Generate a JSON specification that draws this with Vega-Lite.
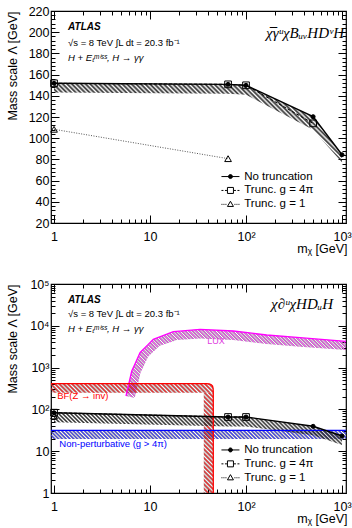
{
"$schema": "https://vega.github.io/schema/vega-lite/v6.json",
"padding": {"left": 5, "top": 4, "right": 4, "bottom": 2},
"bounds": "flush",
"spacing": 61,
"config": {
  "view": {"stroke": "black", "strokeWidth": 1.2},
  "axis": {"grid": false, "domain": false, "tickColor": "black", "tickWidth": 1, "labelFont": "Liberation Sans", "labelFontSize": 12.5, "labelColor": "black", "titleFont": "Liberation Sans", "titleFontSize": 12.5, "titleFontWeight": "normal", "titleColor": "black", "labelFlush": false, "labelOverlap": false},
  "font": "Liberation Sans"
},
"resolve": {"scale": {"shape": "independent", "fill": "independent"}, "legend": {"shape": "independent", "fill": "independent"}},
"datasets": {
  "top": [
    {"s": "No truncation", "m": 1, "v": 151.8, "lo": 143},
    {"s": "No truncation", "m": 65, "v": 150.8, "lo": 142},
    {"s": "No truncation", "m": 100, "v": 149.9, "lo": 141},
    {"s": "No truncation", "m": 500, "v": 120.3, "lo": 108},
    {"s": "No truncation", "m": 1000, "v": 84.4, "lo": 77},
    {"s": "Trunc. g = 4π", "m": 1, "v": 151.8},
    {"s": "Trunc. g = 4π", "m": 65, "v": 150.8},
    {"s": "Trunc. g = 4π", "m": 100, "v": 149.9},
    {"s": "Trunc. g = 4π", "m": 500, "v": 114},
    {"s": "Trunc. g = 1", "m": 1, "v": 108.4},
    {"s": "Trunc. g = 1", "m": 65, "v": 80.7}
  ],
  "bot": [
    {"s": "No truncation", "m": 1, "v": 83.4, "lo": 49},
    {"s": "No truncation", "m": 65, "v": 65.8, "lo": 39},
    {"s": "No truncation", "m": 100, "v": 65.8, "lo": 39},
    {"s": "No truncation", "m": 500, "v": 39.4, "lo": 24},
    {"s": "No truncation", "m": 1000, "v": 23.1, "lo": 14},
    {"s": "Trunc. g = 4π", "m": 1, "v": 83.4},
    {"s": "Trunc. g = 4π", "m": 65, "v": 65.8},
    {"s": "Trunc. g = 4π", "m": 100, "v": 65.8},
    {"s": "Trunc. g = 1", "m": 1, "v": 69.5}
  ],
  "legendRows": [{"lbl": "No truncation"}, {"lbl": "Trunc. g = 4π"}, {"lbl": "Trunc. g = 1"}],
  "lux": [
    {"m": 5.62, "hi": 209, "lo": 209},
    {"m": 6.45, "hi": 829, "lo": 195},
    {"m": 6.93, "hi": 1193, "lo": 187},
    {"m": 7.87, "hi": 2272, "lo": 676},
    {"m": 7.94, "hi": 2323, "lo": 743},
    {"m": 9.58, "hi": 3589, "lo": 1854},
    {"m": 10.82, "hi": 4753, "lo": 2400},
    {"m": 12.62, "hi": 5424, "lo": 3342},
    {"m": 17.49, "hi": 7225, "lo": 4285},
    {"m": 18.88, "hi": 7345, "lo": 4548},
    {"m": 33.2, "hi": 8245, "lo": 4997},
    {"m": 73.8, "hi": 7510, "lo": 4571},
    {"m": 164.3, "hi": 6025, "lo": 3671},
    {"m": 365.1, "hi": 5192, "lo": 3162},
    {"m": 1100, "hi": 4258, "lo": 2637}
  ],
  "redline": [
    {"m": 0.93, "v": 412, "k": 0},
    {"m": 38.5, "v": 412, "k": 1},
    {"m": 41.5, "v": 405, "k": 2},
    {"m": 43.5, "v": 390, "k": 3},
    {"m": 44.8, "v": 360, "k": 4},
    {"m": 45.4, "v": 320, "k": 5},
    {"m": 45.6, "v": 260, "k": 6},
    {"m": 45.6, "v": 1, "k": 7}
  ],
  "bfbox": [{"m1": 36.3, "m2": 45.6, "lo": 1, "hi": 250}],
  "blue": [
    {"m": 0.93, "v": 31.6, "lo": 19.6},
    {"m": 1100, "v": 31.6, "lo": 19.6}
  ]
},
"vconcat": [
{
  "width": 295, "height": 212,
  "resolve": {"axis": {"x": "independent", "y": "independent"}},
  "layer": [
    {"data": {"name": "top"}, "transform": [{"filter": "datum.s == 'No truncation'"}],
     "mark": {"type": "area", "fill": {"gradient": "linear", "x1": 0, "y1": 1, "x2": 1.1855, "y2": 0.6736, "stops": [
{"offset":0,"color":"#333"},{"offset":0.00625,"color":"transparent"},{"offset":0.0125,"color":"#333"},{"offset":0.01875,"color":"transparent"},{"offset":0.025,"color":"#333"},{"offset":0.03125,"color":"transparent"},{"offset":0.0375,"color":"#333"},{"offset":0.04375,"color":"transparent"},{"offset":0.05,"color":"#333"},{"offset":0.05625,"color":"transparent"},{"offset":0.0625,"color":"#333"},{"offset":0.06875,"color":"transparent"},{"offset":0.075,"color":"#333"},{"offset":0.08125,"color":"transparent"},{"offset":0.0875,"color":"#333"},{"offset":0.09375,"color":"transparent"},
{"offset":0.1,"color":"#333"},{"offset":0.10625,"color":"transparent"},{"offset":0.1125,"color":"#333"},{"offset":0.11875,"color":"transparent"},{"offset":0.125,"color":"#333"},{"offset":0.13125,"color":"transparent"},{"offset":0.1375,"color":"#333"},{"offset":0.14375,"color":"transparent"},{"offset":0.15,"color":"#333"},{"offset":0.15625,"color":"transparent"},{"offset":0.1625,"color":"#333"},{"offset":0.16875,"color":"transparent"},{"offset":0.175,"color":"#333"},{"offset":0.18125,"color":"transparent"},{"offset":0.1875,"color":"#333"},{"offset":0.19375,"color":"transparent"},
{"offset":0.2,"color":"#333"},{"offset":0.20625,"color":"transparent"},{"offset":0.2125,"color":"#333"},{"offset":0.21875,"color":"transparent"},{"offset":0.225,"color":"#333"},{"offset":0.23125,"color":"transparent"},{"offset":0.2375,"color":"#333"},{"offset":0.24375,"color":"transparent"},{"offset":0.25,"color":"#333"},{"offset":0.25625,"color":"transparent"},{"offset":0.2625,"color":"#333"},{"offset":0.26875,"color":"transparent"},{"offset":0.275,"color":"#333"},{"offset":0.28125,"color":"transparent"},{"offset":0.2875,"color":"#333"},{"offset":0.29375,"color":"transparent"},
{"offset":0.3,"color":"#333"},{"offset":0.30625,"color":"transparent"},{"offset":0.3125,"color":"#333"},{"offset":0.31875,"color":"transparent"},{"offset":0.325,"color":"#333"},{"offset":0.33125,"color":"transparent"},{"offset":0.3375,"color":"#333"},{"offset":0.34375,"color":"transparent"},{"offset":0.35,"color":"#333"},{"offset":0.35625,"color":"transparent"},{"offset":0.3625,"color":"#333"},{"offset":0.36875,"color":"transparent"},{"offset":0.375,"color":"#333"},{"offset":0.38125,"color":"transparent"},{"offset":0.3875,"color":"#333"},{"offset":0.39375,"color":"transparent"},
{"offset":0.4,"color":"#333"},{"offset":0.40625,"color":"transparent"},{"offset":0.4125,"color":"#333"},{"offset":0.41875,"color":"transparent"},{"offset":0.425,"color":"#333"},{"offset":0.43125,"color":"transparent"},{"offset":0.4375,"color":"#333"},{"offset":0.44375,"color":"transparent"},{"offset":0.45,"color":"#333"},{"offset":0.45625,"color":"transparent"},{"offset":0.4625,"color":"#333"},{"offset":0.46875,"color":"transparent"},{"offset":0.475,"color":"#333"},{"offset":0.48125,"color":"transparent"},{"offset":0.4875,"color":"#333"},{"offset":0.49375,"color":"transparent"},
{"offset":0.5,"color":"#333"},{"offset":0.50625,"color":"transparent"},{"offset":0.5125,"color":"#333"},{"offset":0.51875,"color":"transparent"},{"offset":0.525,"color":"#333"},{"offset":0.53125,"color":"transparent"},{"offset":0.5375,"color":"#333"},{"offset":0.54375,"color":"transparent"},{"offset":0.55,"color":"#333"},{"offset":0.55625,"color":"transparent"},{"offset":0.5625,"color":"#333"},{"offset":0.56875,"color":"transparent"},{"offset":0.575,"color":"#333"},{"offset":0.58125,"color":"transparent"},{"offset":0.5875,"color":"#333"},{"offset":0.59375,"color":"transparent"},
{"offset":0.6,"color":"#333"},{"offset":0.60625,"color":"transparent"},{"offset":0.6125,"color":"#333"},{"offset":0.61875,"color":"transparent"},{"offset":0.625,"color":"#333"},{"offset":0.63125,"color":"transparent"},{"offset":0.6375,"color":"#333"},{"offset":0.64375,"color":"transparent"},{"offset":0.65,"color":"#333"},{"offset":0.65625,"color":"transparent"},{"offset":0.6625,"color":"#333"},{"offset":0.66875,"color":"transparent"},{"offset":0.675,"color":"#333"},{"offset":0.68125,"color":"transparent"},{"offset":0.6875,"color":"#333"},{"offset":0.69375,"color":"transparent"},
{"offset":0.7,"color":"#333"},{"offset":0.70625,"color":"transparent"},{"offset":0.7125,"color":"#333"},{"offset":0.71875,"color":"transparent"},{"offset":0.725,"color":"#333"},{"offset":0.73125,"color":"transparent"},{"offset":0.7375,"color":"#333"},{"offset":0.74375,"color":"transparent"},{"offset":0.75,"color":"#333"},{"offset":0.75625,"color":"transparent"},{"offset":0.7625,"color":"#333"},{"offset":0.76875,"color":"transparent"},{"offset":0.775,"color":"#333"},{"offset":0.78125,"color":"transparent"},{"offset":0.7875,"color":"#333"},{"offset":0.79375,"color":"transparent"},
{"offset":0.8,"color":"#333"},{"offset":0.80625,"color":"transparent"},{"offset":0.8125,"color":"#333"},{"offset":0.81875,"color":"transparent"},{"offset":0.825,"color":"#333"},{"offset":0.83125,"color":"transparent"},{"offset":0.8375,"color":"#333"},{"offset":0.84375,"color":"transparent"},{"offset":0.85,"color":"#333"},{"offset":0.85625,"color":"transparent"},{"offset":0.8625,"color":"#333"},{"offset":0.86875,"color":"transparent"},{"offset":0.875,"color":"#333"},{"offset":0.88125,"color":"transparent"},{"offset":0.8875,"color":"#333"},{"offset":0.89375,"color":"transparent"},
{"offset":0.9,"color":"#333"},{"offset":0.90625,"color":"transparent"},{"offset":0.9125,"color":"#333"},{"offset":0.91875,"color":"transparent"},{"offset":0.925,"color":"#333"},{"offset":0.93125,"color":"transparent"},{"offset":0.9375,"color":"#333"},{"offset":0.94375,"color":"transparent"},{"offset":0.95,"color":"#333"},{"offset":0.95625,"color":"transparent"},{"offset":0.9625,"color":"#333"},{"offset":0.96875,"color":"transparent"},{"offset":0.975,"color":"#333"},{"offset":0.98125,"color":"transparent"},{"offset":0.9875,"color":"#333"},{"offset":0.99375,"color":"transparent"},
{"offset":1,"color":"#333"}]}},
     "encoding": {
       "x": {"field": "m", "type": "quantitative", "scale": {"type": "log", "domain": [0.93, 1100], "nice": false},
             "axis": {"orient": "bottom", "values": [1, 10, 100, 1000], "tickSize": -8, "labelPadding": 15, "labelExpr": "datum.value == 1 ? '1' : datum.value == 10 ? '10' : datum.value == 100 ? '10²' : '10³'", "title": "mᵪ [GeV]", "titleAnchor": "end", "titleAlign": "right", "titleX": 296, "titleY": 29.5, "titleBaseline": "alphabetic"}},
       "y": {"field": "v", "type": "quantitative", "scale": {"domain": [20, 220], "nice": false, "zero": false},
             "axis": {"orient": "left", "values": [20, 40, 60, 80, 100, 120, 140, 160, 180, 200, 220], "tickSize": -8, "labelPadding": 10, "title": "Mass scale Λ [GeV]", "titleAnchor": "end", "titleAlign": "right", "titleAngle": -90, "titleX": -34.5, "titleY": 0, "titleBaseline": "alphabetic"}},
       "y2": {"field": "lo"}
     }},
    {"data": {"name": "top"}, "transform": [{"filter": "datum.s == 'No truncation'"}],
     "mark": {"type": "line", "stroke": "black", "strokeWidth": 1.4},
     "encoding": {
       "x": {"field": "m", "type": "quantitative", "axis": {"orient": "bottom", "values": [2,3,4,5,6,7,8,9,20,30,40,50,60,70,80,90,200,300,400,500,600,700,800,900], "tickSize": -4, "labels": false, "title": null}},
       "y": {"field": "v", "type": "quantitative", "axis": {"orient": "left", "values": [24,28,32,36,44,48,52,56,64,68,72,76,84,88,92,96,104,108,112,116,124,128,132,136,144,148,152,156,164,168,172,176,184,188,192,196,204,208,212,216], "tickSize": -4, "labels": false, "title": null}}
     }},
    {"data": {"name": "top"}, "transform": [{"filter": "datum.s == 'Trunc. g = 4π'"}],
     "mark": {"type": "line", "stroke": "black", "strokeWidth": 1, "strokeDash": [3, 2]},
     "encoding": {"x": {"field": "m", "type": "quantitative", "axis": null}, "y": {"field": "v", "type": "quantitative", "axis": null}}},
    {"data": {"name": "top"}, "transform": [{"filter": "datum.s == 'Trunc. g = 1'"}],
     "mark": {"type": "line", "stroke": "#555", "strokeWidth": 1, "strokeDash": [1, 1.5]},
     "encoding": {"x": {"field": "m", "type": "quantitative", "axis": null}, "y": {"field": "v", "type": "quantitative", "axis": null}}},
    {"data": {"name": "top"}, "transform": [{"filter": "datum.s == 'No truncation'"}],
     "mark": {"type": "point", "shape": "circle", "filled": true, "fill": "black", "stroke": "black", "strokeWidth": 1, "size": 16, "opacity": 1},
     "encoding": {
       "x": {"field": "m", "type": "quantitative", "axis": {"orient": "top", "values": [1, 10, 100, 1000], "tickSize": -8, "labels": false, "title": null}},
       "y": {"field": "v", "type": "quantitative", "axis": {"orient": "right", "values": [20, 40, 60, 80, 100, 120, 140, 160, 180, 200, 220], "tickSize": -8, "labels": false, "title": null}}
     }},
    {"data": {"name": "top"}, "transform": [{"filter": "datum.s == 'Trunc. g = 4π'"}],
     "mark": {"type": "point", "shape": "square", "filled": false, "stroke": "black", "strokeWidth": 1, "size": 45, "opacity": 1},
     "encoding": {"x": {"field": "m", "type": "quantitative", "axis": null}, "y": {"field": "v", "type": "quantitative", "axis": null}}},
    {"data": {"name": "top"}, "transform": [{"filter": "datum.s == 'Trunc. g = 1'"}],
     "mark": {"type": "point", "shape": "triangle-up", "filled": false, "stroke": "black", "strokeWidth": 1, "size": 45, "opacity": 1},
     "encoding": {"x": {"field": "m", "type": "quantitative", "axis": null}, "y": {"field": "v", "type": "quantitative", "axis": null}}},
    {"data": {"name": "legendRows"},
     "mark": {"type": "point", "filled": false, "stroke": "black", "strokeWidth": 1, "opacity": 0},
     "encoding": {
       "shape": {"field": "lbl", "type": "nominal", "scale": {"domain": ["No truncation", "Trunc. g = 4π", "Trunc. g = 1"], "range": ["M-1.8,0H1.8M0.4,0A0.4,0.4,0,1,1,-0.4,0A0.4,0.4,0,1,1,0.4,0Z", "M-1.8,0H-1.4M-1.1,0H-0.7M0.7,0H1.1M1.4,0H1.8M-0.6,-0.6H0.6V0.6H-0.6Z", "M-1.8,0H-1.6M-1.4,0H-1.2M-1,0H-0.8M0.8,0H1M1.2,0H1.4M1.6,0H1.8M0,-0.62L0.6,0.42H-0.6Z"]},
         "legend": {"orient": "none", "legendX": 173.7, "legendY": 159.8, "title": null, "symbolSize": 100, "symbolStrokeWidth": 1, "symbolStrokeColor": "black", "symbolOpacity": 1, "labelFontSize": 11.5, "labelFont": "Liberation Sans", "labelColor": "black", "labelOffset": 8, "rowPadding": 0.9, "padding": 0,
           "encode": {"symbols": {"update": {"stroke": {"value": "black"}, "strokeWidth": {"value": 1}, "strokeOpacity": {"value": 1}}}}}},
       "fill": {"field": "lbl", "type": "nominal", "scale": {"domain": ["No truncation", "Trunc. g = 4π", "Trunc. g = 1"], "range": ["black", "white", "white"]},
         "legend": {"orient": "none", "legendX": 173.7, "legendY": 159.8, "title": null, "symbolSize": 100, "symbolStrokeWidth": 1, "symbolStrokeColor": "black", "symbolOpacity": 1, "labelFontSize": 11.5, "labelFont": "Liberation Sans", "labelColor": "black", "labelOffset": 8, "rowPadding": 0.9, "padding": 0,
           "encode": {"symbols": {"update": {"stroke": {"value": "black"}, "strokeWidth": {"value": 1}, "strokeOpacity": {"value": 1}}}}}}
     }},
    {"data": {"values": [{"m": 1.4, "v": 205.2, "t": "ATLAS"}]},
     "mark": {"type": "text", "font": "Liberation Sans", "fontStyle": "italic", "fontWeight": "bold", "fontSize": 10, "align": "left", "baseline": "middle", "color": "black"},
     "encoding": {
       "x": {"field": "m", "type": "quantitative", "axis": {"orient": "top", "values": [2,3,4,5,6,7,8,9,20,30,40,50,60,70,80,90,200,300,400,500,600,700,800,900], "tickSize": -4, "labels": false, "title": null}},
       "y": {"field": "v", "type": "quantitative", "axis": {"orient": "right", "values": [24,28,32,36,44,48,52,56,64,68,72,76,84,88,92,96,104,108,112,116,124,128,132,136,144,148,152,156,164,168,172,176,184,188,192,196,204,208,212,216], "tickSize": -4, "labels": false, "title": null}},
       "text": {"field": "t"}
     }},
    {"data": {"values": [{"m": 1.4, "v": 190.1, "t": "√s = 8 TeV   ∫L dt = 20.3 fb⁻¹"}]},
     "mark": {"type": "text", "font": "Liberation Sans", "fontSize": 9.5, "align": "left", "baseline": "middle", "color": "black"},
     "encoding": {"x": {"field": "m", "type": "quantitative", "axis": null}, "y": {"field": "v", "type": "quantitative", "axis": null}, "text": {"field": "t"}}},
    {"data": {"values": [{"m": 1.4, "v": 175.9, "t": "H + Eₜᵐⁱˢˢ, H → γγ"}]},
     "mark": {"type": "text", "font": "Liberation Sans", "fontStyle": "italic", "fontSize": 9.5, "align": "left", "baseline": "middle", "color": "black"},
     "encoding": {"x": {"field": "m", "type": "quantitative", "axis": null}, "y": {"field": "v", "type": "quantitative", "axis": null}, "text": {"field": "t"}}},
    {"data": {"values": [{"m": 1050, "v": 199.5, "t": "χ̅γᵘχBᵤᵥHDᵛH"}]},
     "mark": {"type": "text", "font": "Liberation Serif", "fontStyle": "italic", "fontSize": 15, "align": "right", "baseline": "middle", "color": "black"},
     "encoding": {"x": {"field": "m", "type": "quantitative", "axis": null}, "y": {"field": "v", "type": "quantitative", "axis": null}, "text": {"field": "t"}}}
  ]
},
{
  "width": 295, "height": 209,
  "resolve": {"axis": {"x": "independent", "y": "independent"}},
  "layer": [
    {"data": {"name": "blue"},
     "mark": {"type": "area", "fill": {"gradient": "linear", "x1": 0, "y1": 1, "x2": 1.0286, "y2": 0.9697, "stops": [
{"offset":0,"color":"#33f"},{"offset":0.00625,"color":"transparent"},{"offset":0.0125,"color":"#33f"},{"offset":0.01875,"color":"transparent"},{"offset":0.025,"color":"#33f"},{"offset":0.03125,"color":"transparent"},{"offset":0.0375,"color":"#33f"},{"offset":0.04375,"color":"transparent"},{"offset":0.05,"color":"#33f"},{"offset":0.05625,"color":"transparent"},{"offset":0.0625,"color":"#33f"},{"offset":0.06875,"color":"transparent"},{"offset":0.075,"color":"#33f"},{"offset":0.08125,"color":"transparent"},{"offset":0.0875,"color":"#33f"},{"offset":0.09375,"color":"transparent"},
{"offset":0.1,"color":"#33f"},{"offset":0.10625,"color":"transparent"},{"offset":0.1125,"color":"#33f"},{"offset":0.11875,"color":"transparent"},{"offset":0.125,"color":"#33f"},{"offset":0.13125,"color":"transparent"},{"offset":0.1375,"color":"#33f"},{"offset":0.14375,"color":"transparent"},{"offset":0.15,"color":"#33f"},{"offset":0.15625,"color":"transparent"},{"offset":0.1625,"color":"#33f"},{"offset":0.16875,"color":"transparent"},{"offset":0.175,"color":"#33f"},{"offset":0.18125,"color":"transparent"},{"offset":0.1875,"color":"#33f"},{"offset":0.19375,"color":"transparent"},
{"offset":0.2,"color":"#33f"},{"offset":0.20625,"color":"transparent"},{"offset":0.2125,"color":"#33f"},{"offset":0.21875,"color":"transparent"},{"offset":0.225,"color":"#33f"},{"offset":0.23125,"color":"transparent"},{"offset":0.2375,"color":"#33f"},{"offset":0.24375,"color":"transparent"},{"offset":0.25,"color":"#33f"},{"offset":0.25625,"color":"transparent"},{"offset":0.2625,"color":"#33f"},{"offset":0.26875,"color":"transparent"},{"offset":0.275,"color":"#33f"},{"offset":0.28125,"color":"transparent"},{"offset":0.2875,"color":"#33f"},{"offset":0.29375,"color":"transparent"},
{"offset":0.3,"color":"#33f"},{"offset":0.30625,"color":"transparent"},{"offset":0.3125,"color":"#33f"},{"offset":0.31875,"color":"transparent"},{"offset":0.325,"color":"#33f"},{"offset":0.33125,"color":"transparent"},{"offset":0.3375,"color":"#33f"},{"offset":0.34375,"color":"transparent"},{"offset":0.35,"color":"#33f"},{"offset":0.35625,"color":"transparent"},{"offset":0.3625,"color":"#33f"},{"offset":0.36875,"color":"transparent"},{"offset":0.375,"color":"#33f"},{"offset":0.38125,"color":"transparent"},{"offset":0.3875,"color":"#33f"},{"offset":0.39375,"color":"transparent"},
{"offset":0.4,"color":"#33f"},{"offset":0.40625,"color":"transparent"},{"offset":0.4125,"color":"#33f"},{"offset":0.41875,"color":"transparent"},{"offset":0.425,"color":"#33f"},{"offset":0.43125,"color":"transparent"},{"offset":0.4375,"color":"#33f"},{"offset":0.44375,"color":"transparent"},{"offset":0.45,"color":"#33f"},{"offset":0.45625,"color":"transparent"},{"offset":0.4625,"color":"#33f"},{"offset":0.46875,"color":"transparent"},{"offset":0.475,"color":"#33f"},{"offset":0.48125,"color":"transparent"},{"offset":0.4875,"color":"#33f"},{"offset":0.49375,"color":"transparent"},
{"offset":0.5,"color":"#33f"},{"offset":0.50625,"color":"transparent"},{"offset":0.5125,"color":"#33f"},{"offset":0.51875,"color":"transparent"},{"offset":0.525,"color":"#33f"},{"offset":0.53125,"color":"transparent"},{"offset":0.5375,"color":"#33f"},{"offset":0.54375,"color":"transparent"},{"offset":0.55,"color":"#33f"},{"offset":0.55625,"color":"transparent"},{"offset":0.5625,"color":"#33f"},{"offset":0.56875,"color":"transparent"},{"offset":0.575,"color":"#33f"},{"offset":0.58125,"color":"transparent"},{"offset":0.5875,"color":"#33f"},{"offset":0.59375,"color":"transparent"},
{"offset":0.6,"color":"#33f"},{"offset":0.60625,"color":"transparent"},{"offset":0.6125,"color":"#33f"},{"offset":0.61875,"color":"transparent"},{"offset":0.625,"color":"#33f"},{"offset":0.63125,"color":"transparent"},{"offset":0.6375,"color":"#33f"},{"offset":0.64375,"color":"transparent"},{"offset":0.65,"color":"#33f"},{"offset":0.65625,"color":"transparent"},{"offset":0.6625,"color":"#33f"},{"offset":0.66875,"color":"transparent"},{"offset":0.675,"color":"#33f"},{"offset":0.68125,"color":"transparent"},{"offset":0.6875,"color":"#33f"},{"offset":0.69375,"color":"transparent"},
{"offset":0.7,"color":"#33f"},{"offset":0.70625,"color":"transparent"},{"offset":0.7125,"color":"#33f"},{"offset":0.71875,"color":"transparent"},{"offset":0.725,"color":"#33f"},{"offset":0.73125,"color":"transparent"},{"offset":0.7375,"color":"#33f"},{"offset":0.74375,"color":"transparent"},{"offset":0.75,"color":"#33f"},{"offset":0.75625,"color":"transparent"},{"offset":0.7625,"color":"#33f"},{"offset":0.76875,"color":"transparent"},{"offset":0.775,"color":"#33f"},{"offset":0.78125,"color":"transparent"},{"offset":0.7875,"color":"#33f"},{"offset":0.79375,"color":"transparent"},
{"offset":0.8,"color":"#33f"},{"offset":0.80625,"color":"transparent"},{"offset":0.8125,"color":"#33f"},{"offset":0.81875,"color":"transparent"},{"offset":0.825,"color":"#33f"},{"offset":0.83125,"color":"transparent"},{"offset":0.8375,"color":"#33f"},{"offset":0.84375,"color":"transparent"},{"offset":0.85,"color":"#33f"},{"offset":0.85625,"color":"transparent"},{"offset":0.8625,"color":"#33f"},{"offset":0.86875,"color":"transparent"},{"offset":0.875,"color":"#33f"},{"offset":0.88125,"color":"transparent"},{"offset":0.8875,"color":"#33f"},{"offset":0.89375,"color":"transparent"},
{"offset":0.9,"color":"#33f"},{"offset":0.90625,"color":"transparent"},{"offset":0.9125,"color":"#33f"},{"offset":0.91875,"color":"transparent"},{"offset":0.925,"color":"#33f"},{"offset":0.93125,"color":"transparent"},{"offset":0.9375,"color":"#33f"},{"offset":0.94375,"color":"transparent"},{"offset":0.95,"color":"#33f"},{"offset":0.95625,"color":"transparent"},{"offset":0.9625,"color":"#33f"},{"offset":0.96875,"color":"transparent"},{"offset":0.975,"color":"#33f"},{"offset":0.98125,"color":"transparent"},{"offset":0.9875,"color":"#33f"},{"offset":0.99375,"color":"transparent"},
{"offset":1,"color":"#33f"}]}},
     "encoding": {
       "x": {"field": "m", "type": "quantitative", "scale": {"type": "log", "domain": [0.93, 1100], "nice": false},
             "axis": {"orient": "bottom", "values": [1, 10, 100, 1000], "tickSize": -8, "labelPadding": 15, "labelExpr": "datum.value == 1 ? '1' : datum.value == 10 ? '10' : datum.value == 100 ? '10²' : '10³'", "title": "mᵪ [GeV]", "titleAnchor": "end", "titleAlign": "right", "titleX": 296, "titleY": 29.5, "titleBaseline": "alphabetic"}},
       "y": {"field": "v", "type": "quantitative", "scale": {"type": "log", "domain": [1, 100000], "nice": false},
             "axis": {"orient": "left", "values": [1, 10, 100, 1000, 10000, 100000], "tickSize": -8, "labelPadding": 10, "labelExpr": "datum.value == 1 ? '1' : datum.value == 10 ? '10' : datum.value == 100 ? '10²' : datum.value == 1000 ? '10³' : datum.value == 10000 ? '10⁴' : '10⁵'", "title": "Mass scale Λ [GeV]", "titleAnchor": "end", "titleAlign": "right", "titleAngle": -90, "titleX": -34.5, "titleY": 0, "titleBaseline": "alphabetic"}},
       "y2": {"field": "lo"}
     }},
    {"data": {"name": "lux"},
     "mark": {"type": "area", "fill": {"gradient": "linear", "x1": 0, "y1": 1, "x2": 1.1957, "y2": 0.6266, "stops": [
{"offset":0,"color":"#f4f"},{"offset":0.00625,"color":"transparent"},{"offset":0.0125,"color":"#f4f"},{"offset":0.01875,"color":"transparent"},{"offset":0.025,"color":"#f4f"},{"offset":0.03125,"color":"transparent"},{"offset":0.0375,"color":"#f4f"},{"offset":0.04375,"color":"transparent"},{"offset":0.05,"color":"#f4f"},{"offset":0.05625,"color":"transparent"},{"offset":0.0625,"color":"#f4f"},{"offset":0.06875,"color":"transparent"},{"offset":0.075,"color":"#f4f"},{"offset":0.08125,"color":"transparent"},{"offset":0.0875,"color":"#f4f"},{"offset":0.09375,"color":"transparent"},
{"offset":0.1,"color":"#f4f"},{"offset":0.10625,"color":"transparent"},{"offset":0.1125,"color":"#f4f"},{"offset":0.11875,"color":"transparent"},{"offset":0.125,"color":"#f4f"},{"offset":0.13125,"color":"transparent"},{"offset":0.1375,"color":"#f4f"},{"offset":0.14375,"color":"transparent"},{"offset":0.15,"color":"#f4f"},{"offset":0.15625,"color":"transparent"},{"offset":0.1625,"color":"#f4f"},{"offset":0.16875,"color":"transparent"},{"offset":0.175,"color":"#f4f"},{"offset":0.18125,"color":"transparent"},{"offset":0.1875,"color":"#f4f"},{"offset":0.19375,"color":"transparent"},
{"offset":0.2,"color":"#f4f"},{"offset":0.20625,"color":"transparent"},{"offset":0.2125,"color":"#f4f"},{"offset":0.21875,"color":"transparent"},{"offset":0.225,"color":"#f4f"},{"offset":0.23125,"color":"transparent"},{"offset":0.2375,"color":"#f4f"},{"offset":0.24375,"color":"transparent"},{"offset":0.25,"color":"#f4f"},{"offset":0.25625,"color":"transparent"},{"offset":0.2625,"color":"#f4f"},{"offset":0.26875,"color":"transparent"},{"offset":0.275,"color":"#f4f"},{"offset":0.28125,"color":"transparent"},{"offset":0.2875,"color":"#f4f"},{"offset":0.29375,"color":"transparent"},
{"offset":0.3,"color":"#f4f"},{"offset":0.30625,"color":"transparent"},{"offset":0.3125,"color":"#f4f"},{"offset":0.31875,"color":"transparent"},{"offset":0.325,"color":"#f4f"},{"offset":0.33125,"color":"transparent"},{"offset":0.3375,"color":"#f4f"},{"offset":0.34375,"color":"transparent"},{"offset":0.35,"color":"#f4f"},{"offset":0.35625,"color":"transparent"},{"offset":0.3625,"color":"#f4f"},{"offset":0.36875,"color":"transparent"},{"offset":0.375,"color":"#f4f"},{"offset":0.38125,"color":"transparent"},{"offset":0.3875,"color":"#f4f"},{"offset":0.39375,"color":"transparent"},
{"offset":0.4,"color":"#f4f"},{"offset":0.40625,"color":"transparent"},{"offset":0.4125,"color":"#f4f"},{"offset":0.41875,"color":"transparent"},{"offset":0.425,"color":"#f4f"},{"offset":0.43125,"color":"transparent"},{"offset":0.4375,"color":"#f4f"},{"offset":0.44375,"color":"transparent"},{"offset":0.45,"color":"#f4f"},{"offset":0.45625,"color":"transparent"},{"offset":0.4625,"color":"#f4f"},{"offset":0.46875,"color":"transparent"},{"offset":0.475,"color":"#f4f"},{"offset":0.48125,"color":"transparent"},{"offset":0.4875,"color":"#f4f"},{"offset":0.49375,"color":"transparent"},
{"offset":0.5,"color":"#f4f"},{"offset":0.50625,"color":"transparent"},{"offset":0.5125,"color":"#f4f"},{"offset":0.51875,"color":"transparent"},{"offset":0.525,"color":"#f4f"},{"offset":0.53125,"color":"transparent"},{"offset":0.5375,"color":"#f4f"},{"offset":0.54375,"color":"transparent"},{"offset":0.55,"color":"#f4f"},{"offset":0.55625,"color":"transparent"},{"offset":0.5625,"color":"#f4f"},{"offset":0.56875,"color":"transparent"},{"offset":0.575,"color":"#f4f"},{"offset":0.58125,"color":"transparent"},{"offset":0.5875,"color":"#f4f"},{"offset":0.59375,"color":"transparent"},
{"offset":0.6,"color":"#f4f"},{"offset":0.60625,"color":"transparent"},{"offset":0.6125,"color":"#f4f"},{"offset":0.61875,"color":"transparent"},{"offset":0.625,"color":"#f4f"},{"offset":0.63125,"color":"transparent"},{"offset":0.6375,"color":"#f4f"},{"offset":0.64375,"color":"transparent"},{"offset":0.65,"color":"#f4f"},{"offset":0.65625,"color":"transparent"},{"offset":0.6625,"color":"#f4f"},{"offset":0.66875,"color":"transparent"},{"offset":0.675,"color":"#f4f"},{"offset":0.68125,"color":"transparent"},{"offset":0.6875,"color":"#f4f"},{"offset":0.69375,"color":"transparent"},
{"offset":0.7,"color":"#f4f"},{"offset":0.70625,"color":"transparent"},{"offset":0.7125,"color":"#f4f"},{"offset":0.71875,"color":"transparent"},{"offset":0.725,"color":"#f4f"},{"offset":0.73125,"color":"transparent"},{"offset":0.7375,"color":"#f4f"},{"offset":0.74375,"color":"transparent"},{"offset":0.75,"color":"#f4f"},{"offset":0.75625,"color":"transparent"},{"offset":0.7625,"color":"#f4f"},{"offset":0.76875,"color":"transparent"},{"offset":0.775,"color":"#f4f"},{"offset":0.78125,"color":"transparent"},{"offset":0.7875,"color":"#f4f"},{"offset":0.79375,"color":"transparent"},
{"offset":0.8,"color":"#f4f"},{"offset":0.80625,"color":"transparent"},{"offset":0.8125,"color":"#f4f"},{"offset":0.81875,"color":"transparent"},{"offset":0.825,"color":"#f4f"},{"offset":0.83125,"color":"transparent"},{"offset":0.8375,"color":"#f4f"},{"offset":0.84375,"color":"transparent"},{"offset":0.85,"color":"#f4f"},{"offset":0.85625,"color":"transparent"},{"offset":0.8625,"color":"#f4f"},{"offset":0.86875,"color":"transparent"},{"offset":0.875,"color":"#f4f"},{"offset":0.88125,"color":"transparent"},{"offset":0.8875,"color":"#f4f"},{"offset":0.89375,"color":"transparent"},
{"offset":0.9,"color":"#f4f"},{"offset":0.90625,"color":"transparent"},{"offset":0.9125,"color":"#f4f"},{"offset":0.91875,"color":"transparent"},{"offset":0.925,"color":"#f4f"},{"offset":0.93125,"color":"transparent"},{"offset":0.9375,"color":"#f4f"},{"offset":0.94375,"color":"transparent"},{"offset":0.95,"color":"#f4f"},{"offset":0.95625,"color":"transparent"},{"offset":0.9625,"color":"#f4f"},{"offset":0.96875,"color":"transparent"},{"offset":0.975,"color":"#f4f"},{"offset":0.98125,"color":"transparent"},{"offset":0.9875,"color":"#f4f"},{"offset":0.99375,"color":"transparent"},
{"offset":1,"color":"#f4f"}]}},
     "encoding": {"x": {"field": "m", "type": "quantitative", "axis": null}, "y": {"field": "hi", "type": "quantitative", "axis": null}, "y2": {"field": "lo"}}},
    {"data": {"name": "redline"}, "transform": [{"filter": "datum.k < 7"}],
     "mark": {"type": "area", "fill": {"gradient": "linear", "x1": 0, "y1": 1, "x2": 1.0528, "y2": 0.941, "stops": [
{"offset":0,"color":"#f22"},{"offset":0.0125,"color":"transparent"},{"offset":0.025,"color":"#f22"},{"offset":0.0375,"color":"transparent"},{"offset":0.05,"color":"#f22"},{"offset":0.0625,"color":"transparent"},{"offset":0.075,"color":"#f22"},{"offset":0.0875,"color":"transparent"},
{"offset":0.1,"color":"#f22"},{"offset":0.1125,"color":"transparent"},{"offset":0.125,"color":"#f22"},{"offset":0.1375,"color":"transparent"},{"offset":0.15,"color":"#f22"},{"offset":0.1625,"color":"transparent"},{"offset":0.175,"color":"#f22"},{"offset":0.1875,"color":"transparent"},
{"offset":0.2,"color":"#f22"},{"offset":0.2125,"color":"transparent"},{"offset":0.225,"color":"#f22"},{"offset":0.2375,"color":"transparent"},{"offset":0.25,"color":"#f22"},{"offset":0.2625,"color":"transparent"},{"offset":0.275,"color":"#f22"},{"offset":0.2875,"color":"transparent"},
{"offset":0.3,"color":"#f22"},{"offset":0.3125,"color":"transparent"},{"offset":0.325,"color":"#f22"},{"offset":0.3375,"color":"transparent"},{"offset":0.35,"color":"#f22"},{"offset":0.3625,"color":"transparent"},{"offset":0.375,"color":"#f22"},{"offset":0.3875,"color":"transparent"},
{"offset":0.4,"color":"#f22"},{"offset":0.4125,"color":"transparent"},{"offset":0.425,"color":"#f22"},{"offset":0.4375,"color":"transparent"},{"offset":0.45,"color":"#f22"},{"offset":0.4625,"color":"transparent"},{"offset":0.475,"color":"#f22"},{"offset":0.4875,"color":"transparent"},
{"offset":0.5,"color":"#f22"},{"offset":0.5125,"color":"transparent"},{"offset":0.525,"color":"#f22"},{"offset":0.5375,"color":"transparent"},{"offset":0.55,"color":"#f22"},{"offset":0.5625,"color":"transparent"},{"offset":0.575,"color":"#f22"},{"offset":0.5875,"color":"transparent"},
{"offset":0.6,"color":"#f22"},{"offset":0.6125,"color":"transparent"},{"offset":0.625,"color":"#f22"},{"offset":0.6375,"color":"transparent"},{"offset":0.65,"color":"#f22"},{"offset":0.6625,"color":"transparent"},{"offset":0.675,"color":"#f22"},{"offset":0.6875,"color":"transparent"},
{"offset":0.7,"color":"#f22"},{"offset":0.7125,"color":"transparent"},{"offset":0.725,"color":"#f22"},{"offset":0.7375,"color":"transparent"},{"offset":0.75,"color":"#f22"},{"offset":0.7625,"color":"transparent"},{"offset":0.775,"color":"#f22"},{"offset":0.7875,"color":"transparent"},
{"offset":0.8,"color":"#f22"},{"offset":0.8125,"color":"transparent"},{"offset":0.825,"color":"#f22"},{"offset":0.8375,"color":"transparent"},{"offset":0.85,"color":"#f22"},{"offset":0.8625,"color":"transparent"},{"offset":0.875,"color":"#f22"},{"offset":0.8875,"color":"transparent"},
{"offset":0.9,"color":"#f22"},{"offset":0.9125,"color":"transparent"},{"offset":0.925,"color":"#f22"},{"offset":0.9375,"color":"transparent"},{"offset":0.95,"color":"#f22"},{"offset":0.9625,"color":"transparent"},{"offset":0.975,"color":"#f22"},{"offset":0.9875,"color":"transparent"},
{"offset":1,"color":"#f22"}]}},
     "encoding": {"x": {"field": "m", "type": "quantitative", "axis": null}, "y": {"field": "v", "type": "quantitative", "axis": null}, "y2": {"datum": 250}}},
    {"data": {"name": "bfbox"},
     "mark": {"type": "rect", "fill": {"gradient": "linear", "x1": 0, "y1": 1, "x2": 0.1029, "y2": -0.085, "stops": [
{"offset":0,"color":"#f22"},{"offset":0.02,"color":"transparent"},{"offset":0.04,"color":"#f22"},{"offset":0.06,"color":"transparent"},{"offset":0.08,"color":"#f22"},{"offset":0.1,"color":"transparent"},{"offset":0.12,"color":"#f22"},{"offset":0.14,"color":"transparent"},{"offset":0.16,"color":"#f22"},{"offset":0.18,"color":"transparent"},
{"offset":0.2,"color":"#f22"},{"offset":0.22,"color":"transparent"},{"offset":0.24,"color":"#f22"},{"offset":0.26,"color":"transparent"},{"offset":0.28,"color":"#f22"},{"offset":0.3,"color":"transparent"},{"offset":0.32,"color":"#f22"},{"offset":0.34,"color":"transparent"},{"offset":0.36,"color":"#f22"},{"offset":0.38,"color":"transparent"},
{"offset":0.4,"color":"#f22"},{"offset":0.42,"color":"transparent"},{"offset":0.44,"color":"#f22"},{"offset":0.46,"color":"transparent"},{"offset":0.48,"color":"#f22"},{"offset":0.5,"color":"transparent"},{"offset":0.52,"color":"#f22"},{"offset":0.54,"color":"transparent"},{"offset":0.56,"color":"#f22"},{"offset":0.58,"color":"transparent"},
{"offset":0.6,"color":"#f22"},{"offset":0.62,"color":"transparent"},{"offset":0.64,"color":"#f22"},{"offset":0.66,"color":"transparent"},{"offset":0.68,"color":"#f22"},{"offset":0.7,"color":"transparent"},{"offset":0.72,"color":"#f22"},{"offset":0.74,"color":"transparent"},{"offset":0.76,"color":"#f22"},{"offset":0.78,"color":"transparent"},
{"offset":0.8,"color":"#f22"},{"offset":0.82,"color":"transparent"},{"offset":0.84,"color":"#f22"},{"offset":0.86,"color":"transparent"},{"offset":0.88,"color":"#f22"},{"offset":0.9,"color":"transparent"},{"offset":0.92,"color":"#f22"},{"offset":0.94,"color":"transparent"},{"offset":0.96,"color":"#f22"},{"offset":0.98,"color":"transparent"},
{"offset":1,"color":"#f22"}]}},
     "encoding": {"x": {"field": "m1", "type": "quantitative", "axis": null}, "x2": {"field": "m2"}, "y": {"field": "lo", "type": "quantitative", "axis": null}, "y2": {"field": "hi"}}},
    {"data": {"name": "bot"}, "transform": [{"filter": "datum.s == 'No truncation'"}],
     "mark": {"type": "area", "fill": {"gradient": "linear", "x1": 0, "y1": 1, "x2": 1.0986, "y2": 0.8764, "stops": [
{"offset":0,"color":"#333"},{"offset":0.00625,"color":"transparent"},{"offset":0.0125,"color":"#333"},{"offset":0.01875,"color":"transparent"},{"offset":0.025,"color":"#333"},{"offset":0.03125,"color":"transparent"},{"offset":0.0375,"color":"#333"},{"offset":0.04375,"color":"transparent"},{"offset":0.05,"color":"#333"},{"offset":0.05625,"color":"transparent"},{"offset":0.0625,"color":"#333"},{"offset":0.06875,"color":"transparent"},{"offset":0.075,"color":"#333"},{"offset":0.08125,"color":"transparent"},{"offset":0.0875,"color":"#333"},{"offset":0.09375,"color":"transparent"},
{"offset":0.1,"color":"#333"},{"offset":0.10625,"color":"transparent"},{"offset":0.1125,"color":"#333"},{"offset":0.11875,"color":"transparent"},{"offset":0.125,"color":"#333"},{"offset":0.13125,"color":"transparent"},{"offset":0.1375,"color":"#333"},{"offset":0.14375,"color":"transparent"},{"offset":0.15,"color":"#333"},{"offset":0.15625,"color":"transparent"},{"offset":0.1625,"color":"#333"},{"offset":0.16875,"color":"transparent"},{"offset":0.175,"color":"#333"},{"offset":0.18125,"color":"transparent"},{"offset":0.1875,"color":"#333"},{"offset":0.19375,"color":"transparent"},
{"offset":0.2,"color":"#333"},{"offset":0.20625,"color":"transparent"},{"offset":0.2125,"color":"#333"},{"offset":0.21875,"color":"transparent"},{"offset":0.225,"color":"#333"},{"offset":0.23125,"color":"transparent"},{"offset":0.2375,"color":"#333"},{"offset":0.24375,"color":"transparent"},{"offset":0.25,"color":"#333"},{"offset":0.25625,"color":"transparent"},{"offset":0.2625,"color":"#333"},{"offset":0.26875,"color":"transparent"},{"offset":0.275,"color":"#333"},{"offset":0.28125,"color":"transparent"},{"offset":0.2875,"color":"#333"},{"offset":0.29375,"color":"transparent"},
{"offset":0.3,"color":"#333"},{"offset":0.30625,"color":"transparent"},{"offset":0.3125,"color":"#333"},{"offset":0.31875,"color":"transparent"},{"offset":0.325,"color":"#333"},{"offset":0.33125,"color":"transparent"},{"offset":0.3375,"color":"#333"},{"offset":0.34375,"color":"transparent"},{"offset":0.35,"color":"#333"},{"offset":0.35625,"color":"transparent"},{"offset":0.3625,"color":"#333"},{"offset":0.36875,"color":"transparent"},{"offset":0.375,"color":"#333"},{"offset":0.38125,"color":"transparent"},{"offset":0.3875,"color":"#333"},{"offset":0.39375,"color":"transparent"},
{"offset":0.4,"color":"#333"},{"offset":0.40625,"color":"transparent"},{"offset":0.4125,"color":"#333"},{"offset":0.41875,"color":"transparent"},{"offset":0.425,"color":"#333"},{"offset":0.43125,"color":"transparent"},{"offset":0.4375,"color":"#333"},{"offset":0.44375,"color":"transparent"},{"offset":0.45,"color":"#333"},{"offset":0.45625,"color":"transparent"},{"offset":0.4625,"color":"#333"},{"offset":0.46875,"color":"transparent"},{"offset":0.475,"color":"#333"},{"offset":0.48125,"color":"transparent"},{"offset":0.4875,"color":"#333"},{"offset":0.49375,"color":"transparent"},
{"offset":0.5,"color":"#333"},{"offset":0.50625,"color":"transparent"},{"offset":0.5125,"color":"#333"},{"offset":0.51875,"color":"transparent"},{"offset":0.525,"color":"#333"},{"offset":0.53125,"color":"transparent"},{"offset":0.5375,"color":"#333"},{"offset":0.54375,"color":"transparent"},{"offset":0.55,"color":"#333"},{"offset":0.55625,"color":"transparent"},{"offset":0.5625,"color":"#333"},{"offset":0.56875,"color":"transparent"},{"offset":0.575,"color":"#333"},{"offset":0.58125,"color":"transparent"},{"offset":0.5875,"color":"#333"},{"offset":0.59375,"color":"transparent"},
{"offset":0.6,"color":"#333"},{"offset":0.60625,"color":"transparent"},{"offset":0.6125,"color":"#333"},{"offset":0.61875,"color":"transparent"},{"offset":0.625,"color":"#333"},{"offset":0.63125,"color":"transparent"},{"offset":0.6375,"color":"#333"},{"offset":0.64375,"color":"transparent"},{"offset":0.65,"color":"#333"},{"offset":0.65625,"color":"transparent"},{"offset":0.6625,"color":"#333"},{"offset":0.66875,"color":"transparent"},{"offset":0.675,"color":"#333"},{"offset":0.68125,"color":"transparent"},{"offset":0.6875,"color":"#333"},{"offset":0.69375,"color":"transparent"},
{"offset":0.7,"color":"#333"},{"offset":0.70625,"color":"transparent"},{"offset":0.7125,"color":"#333"},{"offset":0.71875,"color":"transparent"},{"offset":0.725,"color":"#333"},{"offset":0.73125,"color":"transparent"},{"offset":0.7375,"color":"#333"},{"offset":0.74375,"color":"transparent"},{"offset":0.75,"color":"#333"},{"offset":0.75625,"color":"transparent"},{"offset":0.7625,"color":"#333"},{"offset":0.76875,"color":"transparent"},{"offset":0.775,"color":"#333"},{"offset":0.78125,"color":"transparent"},{"offset":0.7875,"color":"#333"},{"offset":0.79375,"color":"transparent"},
{"offset":0.8,"color":"#333"},{"offset":0.80625,"color":"transparent"},{"offset":0.8125,"color":"#333"},{"offset":0.81875,"color":"transparent"},{"offset":0.825,"color":"#333"},{"offset":0.83125,"color":"transparent"},{"offset":0.8375,"color":"#333"},{"offset":0.84375,"color":"transparent"},{"offset":0.85,"color":"#333"},{"offset":0.85625,"color":"transparent"},{"offset":0.8625,"color":"#333"},{"offset":0.86875,"color":"transparent"},{"offset":0.875,"color":"#333"},{"offset":0.88125,"color":"transparent"},{"offset":0.8875,"color":"#333"},{"offset":0.89375,"color":"transparent"},
{"offset":0.9,"color":"#333"},{"offset":0.90625,"color":"transparent"},{"offset":0.9125,"color":"#333"},{"offset":0.91875,"color":"transparent"},{"offset":0.925,"color":"#333"},{"offset":0.93125,"color":"transparent"},{"offset":0.9375,"color":"#333"},{"offset":0.94375,"color":"transparent"},{"offset":0.95,"color":"#333"},{"offset":0.95625,"color":"transparent"},{"offset":0.9625,"color":"#333"},{"offset":0.96875,"color":"transparent"},{"offset":0.975,"color":"#333"},{"offset":0.98125,"color":"transparent"},{"offset":0.9875,"color":"#333"},{"offset":0.99375,"color":"transparent"},
{"offset":1,"color":"#333"}]}},
     "encoding": {"x": {"field": "m", "type": "quantitative", "axis": null}, "y": {"field": "v", "type": "quantitative", "axis": null}, "y2": {"field": "lo"}}},
    {"data": {"name": "lux"},
     "mark": {"type": "line", "stroke": "#f0f", "strokeWidth": 1.3},
     "encoding": {"x": {"field": "m", "type": "quantitative", "axis": null}, "y": {"field": "hi", "type": "quantitative", "axis": null}}},
    {"data": {"name": "redline"},
     "mark": {"type": "line", "stroke": "#f00", "strokeWidth": 1.3},
     "encoding": {"x": {"field": "m", "type": "quantitative", "axis": null}, "y": {"field": "v", "type": "quantitative", "axis": null}, "order": {"field": "k"}}},
    {"data": {"name": "blue"},
     "mark": {"type": "line", "stroke": "#00f", "strokeWidth": 1.3},
     "encoding": {"x": {"field": "m", "type": "quantitative", "axis": null}, "y": {"field": "v", "type": "quantitative", "axis": null}}},
    {"data": {"name": "bot"}, "transform": [{"filter": "datum.s == 'No truncation'"}],
     "mark": {"type": "line", "stroke": "black", "strokeWidth": 1.4},
     "encoding": {
       "x": {"field": "m", "type": "quantitative", "axis": {"orient": "bottom", "values": [2,3,4,5,6,7,8,9,20,30,40,50,60,70,80,90,200,300,400,500,600,700,800,900], "tickSize": -4, "labels": false, "title": null}},
       "y": {"field": "v", "type": "quantitative", "axis": {"orient": "left", "values": [2,3,4,5,6,7,8,9,20,30,40,50,60,70,80,90,200,300,400,500,600,700,800,900,2000,3000,4000,5000,6000,7000,8000,9000,20000,30000,40000,50000,60000,70000,80000,90000], "tickSize": -4, "labels": false, "title": null}}
     }},
    {"data": {"name": "bot"}, "transform": [{"filter": "datum.s == 'Trunc. g = 4π'"}],
     "mark": {"type": "line", "stroke": "black", "strokeWidth": 1, "strokeDash": [3, 2]},
     "encoding": {"x": {"field": "m", "type": "quantitative", "axis": null}, "y": {"field": "v", "type": "quantitative", "axis": null}}},
    {"data": {"name": "bot"}, "transform": [{"filter": "datum.s == 'No truncation'"}],
     "mark": {"type": "point", "shape": "circle", "filled": true, "fill": "black", "stroke": "black", "strokeWidth": 1, "size": 16, "opacity": 1},
     "encoding": {
       "x": {"field": "m", "type": "quantitative", "axis": {"orient": "top", "values": [1, 10, 100, 1000], "tickSize": -8, "labels": false, "title": null}},
       "y": {"field": "v", "type": "quantitative", "axis": {"orient": "right", "values": [1, 10, 100, 1000, 10000, 100000], "tickSize": -8, "labels": false, "title": null}}
     }},
    {"data": {"name": "bot"}, "transform": [{"filter": "datum.s == 'Trunc. g = 4π'"}],
     "mark": {"type": "point", "shape": "square", "filled": false, "stroke": "black", "strokeWidth": 1, "size": 45, "opacity": 1},
     "encoding": {"x": {"field": "m", "type": "quantitative", "axis": null}, "y": {"field": "v", "type": "quantitative", "axis": null}}},
    {"data": {"name": "bot"}, "transform": [{"filter": "datum.s == 'Trunc. g = 1'"}],
     "mark": {"type": "point", "shape": "triangle-up", "filled": false, "stroke": "black", "strokeWidth": 1, "size": 45, "opacity": 1},
     "encoding": {"x": {"field": "m", "type": "quantitative", "axis": null}, "y": {"field": "v", "type": "quantitative", "axis": null}}},
    {"data": {"name": "legendRows"},
     "mark": {"type": "point", "filled": false, "stroke": "black", "strokeWidth": 1, "opacity": 0},
     "encoding": {
       "shape": {"field": "lbl", "type": "nominal", "scale": {"domain": ["No truncation", "Trunc. g = 4π", "Trunc. g = 1"], "range": ["M-1.8,0H1.8M0.4,0A0.4,0.4,0,1,1,-0.4,0A0.4,0.4,0,1,1,0.4,0Z", "M-1.8,0H-1.4M-1.1,0H-0.7M0.7,0H1.1M1.4,0H1.8M-0.6,-0.6H0.6V0.6H-0.6Z", "M-1.8,0H-1.6M-1.4,0H-1.2M-1,0H-0.8M0.8,0H1M1.2,0H1.4M1.6,0H1.8M0,-0.62L0.6,0.42H-0.6Z"]},
         "legend": {"orient": "none", "legendX": 173.7, "legendY": 160.2, "title": null, "symbolSize": 100, "symbolStrokeWidth": 1, "symbolStrokeColor": "black", "symbolOpacity": 1, "labelFontSize": 11.5, "labelFont": "Liberation Sans", "labelColor": "black", "labelOffset": 8, "rowPadding": 0.9, "padding": 0,
           "encode": {"symbols": {"update": {"stroke": {"value": "black"}, "strokeWidth": {"value": 1}, "strokeOpacity": {"value": 1}}}}}},
       "fill": {"field": "lbl", "type": "nominal", "scale": {"domain": ["No truncation", "Trunc. g = 4π", "Trunc. g = 1"], "range": ["black", "white", "white"]},
         "legend": {"orient": "none", "legendX": 173.7, "legendY": 160.2, "title": null, "symbolSize": 100, "symbolStrokeWidth": 1, "symbolStrokeColor": "black", "symbolOpacity": 1, "labelFontSize": 11.5, "labelFont": "Liberation Sans", "labelColor": "black", "labelOffset": 8, "rowPadding": 0.9, "padding": 0,
           "encode": {"symbols": {"update": {"stroke": {"value": "black"}, "strokeWidth": {"value": 1}, "strokeOpacity": {"value": 1}}}}}}
     }},
    {"data": {"values": [{"m": 1.4, "v": 41400, "t": "ATLAS"}]},
     "mark": {"type": "text", "font": "Liberation Sans", "fontStyle": "italic", "fontWeight": "bold", "fontSize": 10, "align": "left", "baseline": "middle", "color": "black"},
     "encoding": {
       "x": {"field": "m", "type": "quantitative", "axis": {"orient": "top", "values": [2,3,4,5,6,7,8,9,20,30,40,50,60,70,80,90,200,300,400,500,600,700,800,900], "tickSize": -4, "labels": false, "title": null}},
       "y": {"field": "v", "type": "quantitative", "axis": {"orient": "right", "values": [2,3,4,5,6,7,8,9,20,30,40,50,60,70,80,90,200,300,400,500,600,700,800,900,2000,3000,4000,5000,6000,7000,8000,9000,20000,30000,40000,50000,60000,70000,80000,90000], "tickSize": -4, "labels": false, "title": null}},
       "text": {"field": "t"}
     }},
    {"data": {"values": [{"m": 1.4, "v": 18850, "t": "√s = 8 TeV   ∫L dt = 20.3 fb⁻¹"}]},
     "mark": {"type": "text", "font": "Liberation Sans", "fontSize": 9.5, "align": "left", "baseline": "middle", "color": "black"},
     "encoding": {"x": {"field": "m", "type": "quantitative", "axis": null}, "y": {"field": "v", "type": "quantitative", "axis": null}, "text": {"field": "t"}}},
    {"data": {"values": [{"m": 1.4, "v": 8250, "t": "H + Eₜᵐⁱˢˢ, H → γγ"}]},
     "mark": {"type": "text", "font": "Liberation Sans", "fontStyle": "italic", "fontSize": 9.5, "align": "left", "baseline": "middle", "color": "black"},
     "encoding": {"x": {"field": "m", "type": "quantitative", "axis": null}, "y": {"field": "v", "type": "quantitative", "axis": null}, "text": {"field": "t"}}},
    {"data": {"values": [{"m": 805, "v": 32700, "t": "χ∂ᵘχHDᵤH"}]},
     "mark": {"type": "text", "font": "Liberation Serif", "fontStyle": "italic", "fontSize": 15, "align": "right", "baseline": "middle", "color": "black"},
     "encoding": {"x": {"field": "m", "type": "quantitative", "axis": null}, "y": {"field": "v", "type": "quantitative", "axis": null}, "text": {"field": "t"}}},
    {"data": {"values": [{"m": 48.7, "v": 4330, "t": "LUX"}]},
     "mark": {"type": "text", "font": "Liberation Sans", "fontSize": 9, "align": "center", "baseline": "middle", "color": "#e040e0"},
     "encoding": {"x": {"field": "m", "type": "quantitative", "axis": null}, "y": {"field": "v", "type": "quantitative", "axis": null}, "text": {"field": "t"}}},
    {"data": {"values": [{"m": 1.08, "v": 204, "t": "BF(Z → inv)"}]},
     "mark": {"type": "text", "font": "Liberation Sans", "fontSize": 9.5, "align": "left", "baseline": "middle", "color": "#f00"},
     "encoding": {"x": {"field": "m", "type": "quantitative", "axis": null}, "y": {"field": "v", "type": "quantitative", "axis": null}, "text": {"field": "t"}}},
    {"data": {"values": [{"m": 1.135, "v": 14.6, "t": "Non-perturbative (g > 4π)"}]},
     "mark": {"type": "text", "font": "Liberation Sans", "fontSize": 9.5, "align": "left", "baseline": "middle", "color": "#00f"},
     "encoding": {"x": {"field": "m", "type": "quantitative", "axis": null}, "y": {"field": "v", "type": "quantitative", "axis": null}, "text": {"field": "t"}}}
  ]
}
]
}
